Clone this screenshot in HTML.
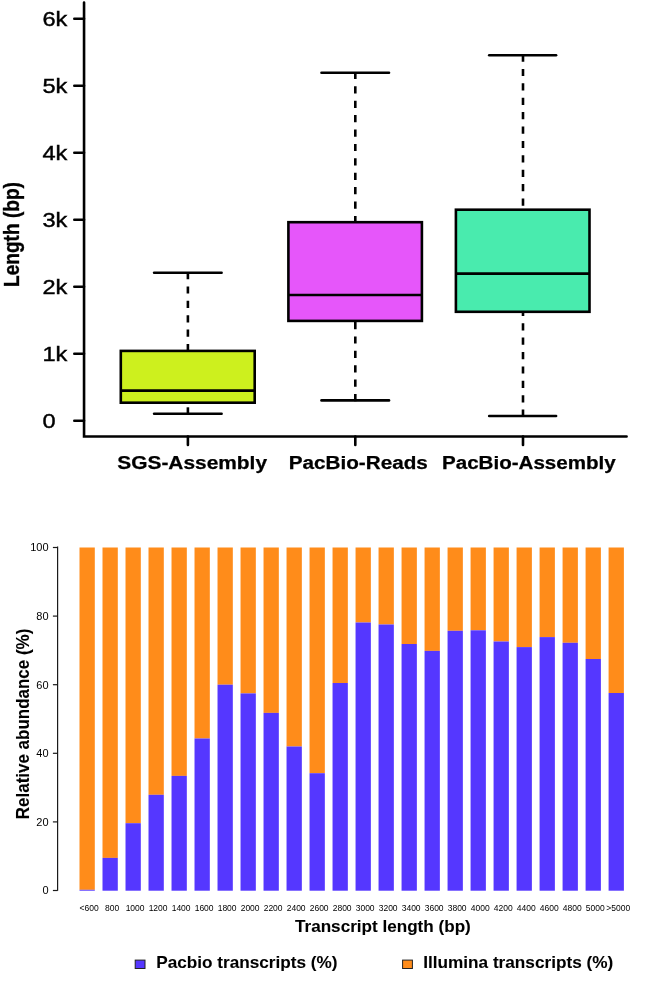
<!DOCTYPE html>
<html><head><meta charset="utf-8"><title>Transcript length figure</title>
<style>html,body{margin:0;padding:0;background:#fff}svg{display:block;will-change:transform}text{font-family:"Liberation Sans",Arial,Helvetica,sans-serif;fill:#000}.b{font-weight:bold}</style></head><body>
<svg width="646" height="1002" viewBox="0 0 646 1002">
<rect width="646" height="1002" fill="#fff"/>
<g stroke="#000" stroke-width="2.6" fill="none" stroke-linecap="butt">
<path d="M84.05 2.6 V436.5 H626.6" stroke-linecap="round" stroke-linejoin="miter"/>
<path d="M74.3 420.70 H84" stroke-linecap="round"/>
<path d="M74.3 353.70 H84" stroke-linecap="round"/>
<path d="M74.3 286.70 H84" stroke-linecap="round"/>
<path d="M74.3 219.70 H84" stroke-linecap="round"/>
<path d="M74.3 152.70 H84" stroke-linecap="round"/>
<path d="M74.3 85.70 H84" stroke-linecap="round"/>
<path d="M74.3 18.70 H84" stroke-linecap="round"/>
<path d="M187.9 436.5 V445.0" stroke-linecap="round"/>
<path d="M355.3 436.5 V445.0" stroke-linecap="round"/>
<path d="M523.0 436.5 V445.0" stroke-linecap="round"/>
</g>
<g stroke="#000" stroke-width="2.6" fill="none">
<path d="M187.9 272.00 V350.9" stroke-dasharray="7.2 7.2"/>
<path d="M187.9 414.50 V402.7" stroke-dasharray="7.2 7.2"/>
<path d="M154.1 272.8 H221.6" stroke-linecap="round"/>
<path d="M154.1 413.7 H221.6" stroke-linecap="round"/>
<rect x="120.8" y="350.9" width="133.90" height="51.80" fill="#cdf01e"/>
<path d="M120.8 390.6 H254.7"/>
</g>
<g stroke="#000" stroke-width="2.6" fill="none">
<path d="M355.3 71.90 V222.2" stroke-dasharray="7.2 7.2"/>
<path d="M355.3 401.20 V320.9" stroke-dasharray="7.2 7.2"/>
<path d="M321.5 72.7 H389.0" stroke-linecap="round"/>
<path d="M321.5 400.4 H389.0" stroke-linecap="round"/>
<rect x="288.4" y="222.2" width="133.50" height="98.70" fill="#e656fa"/>
<path d="M288.4 295.0 H421.9"/>
</g>
<g stroke="#000" stroke-width="2.6" fill="none">
<path d="M523.0 54.50 V209.7" stroke-dasharray="7.2 7.2"/>
<path d="M523.0 416.80 V311.8" stroke-dasharray="7.2 7.2"/>
<path d="M489.2 55.3 H556.1" stroke-linecap="round"/>
<path d="M489.2 416.0 H556.1" stroke-linecap="round"/>
<rect x="455.9" y="209.7" width="133.60" height="102.10" fill="#49ebae"/>
<path d="M455.9 273.6 H589.5"/>
</g>
<text transform="translate(42.4 428.30) scale(1.18 1)" font-size="20" stroke="#000" stroke-width="0.4">0</text>
<text transform="translate(42.4 361.30) scale(1.18 1)" font-size="20" stroke="#000" stroke-width="0.4">1k</text>
<text transform="translate(42.4 294.30) scale(1.18 1)" font-size="20" stroke="#000" stroke-width="0.4">2k</text>
<text transform="translate(42.4 227.30) scale(1.18 1)" font-size="20" stroke="#000" stroke-width="0.4">3k</text>
<text transform="translate(42.4 160.30) scale(1.18 1)" font-size="20" stroke="#000" stroke-width="0.4">4k</text>
<text transform="translate(42.4 93.30) scale(1.18 1)" font-size="20" stroke="#000" stroke-width="0.4">5k</text>
<text transform="translate(42.4 26.30) scale(1.18 1)" font-size="20" stroke="#000" stroke-width="0.4">6k</text>
<text class="b" x="117.3" y="469.0" font-size="17.6" stroke="#000" stroke-width="0.25" textLength="149.7" lengthAdjust="spacingAndGlyphs">SGS-Assembly</text>
<text class="b" x="288.7" y="469.0" font-size="17.6" stroke="#000" stroke-width="0.25" textLength="139.1" lengthAdjust="spacingAndGlyphs">PacBio-Reads</text>
<text class="b" x="442.0" y="469.0" font-size="17.6" stroke="#000" stroke-width="0.25" textLength="173.7" lengthAdjust="spacingAndGlyphs">PacBio-Assembly</text>
<text class="b" transform="translate(18.7 287) scale(1.19 1) rotate(-90)" font-size="19.1" stroke="#000" stroke-width="0.3">Length (bp)</text>
<g shape-rendering="auto">
<rect x="79.50" y="547.5" width="15.3" height="342.30" fill="#ff8c1a"/>
<rect x="79.50" y="889.80" width="15.3" height="0.90" fill="#5537ff"/>
<rect x="102.50" y="547.5" width="15.3" height="310.40" fill="#ff8c1a"/>
<rect x="102.50" y="857.90" width="15.3" height="32.80" fill="#5537ff"/>
<rect x="125.51" y="547.5" width="15.3" height="275.70" fill="#ff8c1a"/>
<rect x="125.51" y="823.20" width="15.3" height="67.50" fill="#5537ff"/>
<rect x="148.51" y="547.5" width="15.3" height="247.30" fill="#ff8c1a"/>
<rect x="148.51" y="794.80" width="15.3" height="95.90" fill="#5537ff"/>
<rect x="171.52" y="547.5" width="15.3" height="228.40" fill="#ff8c1a"/>
<rect x="171.52" y="775.90" width="15.3" height="114.80" fill="#5537ff"/>
<rect x="194.52" y="547.5" width="15.3" height="191.00" fill="#ff8c1a"/>
<rect x="194.52" y="738.50" width="15.3" height="152.20" fill="#5537ff"/>
<rect x="217.52" y="547.5" width="15.3" height="137.20" fill="#ff8c1a"/>
<rect x="217.52" y="684.70" width="15.3" height="206.00" fill="#5537ff"/>
<rect x="240.53" y="547.5" width="15.3" height="145.90" fill="#ff8c1a"/>
<rect x="240.53" y="693.40" width="15.3" height="197.30" fill="#5537ff"/>
<rect x="263.53" y="547.5" width="15.3" height="165.40" fill="#ff8c1a"/>
<rect x="263.53" y="712.90" width="15.3" height="177.80" fill="#5537ff"/>
<rect x="286.54" y="547.5" width="15.3" height="199.00" fill="#ff8c1a"/>
<rect x="286.54" y="746.50" width="15.3" height="144.20" fill="#5537ff"/>
<rect x="309.54" y="547.5" width="15.3" height="225.70" fill="#ff8c1a"/>
<rect x="309.54" y="773.20" width="15.3" height="117.50" fill="#5537ff"/>
<rect x="332.54" y="547.5" width="15.3" height="135.50" fill="#ff8c1a"/>
<rect x="332.54" y="683.00" width="15.3" height="207.70" fill="#5537ff"/>
<rect x="355.55" y="547.5" width="15.3" height="75.00" fill="#ff8c1a"/>
<rect x="355.55" y="622.50" width="15.3" height="268.20" fill="#5537ff"/>
<rect x="378.55" y="547.5" width="15.3" height="77.00" fill="#ff8c1a"/>
<rect x="378.55" y="624.50" width="15.3" height="266.20" fill="#5537ff"/>
<rect x="401.56" y="547.5" width="15.3" height="96.50" fill="#ff8c1a"/>
<rect x="401.56" y="644.00" width="15.3" height="246.70" fill="#5537ff"/>
<rect x="424.56" y="547.5" width="15.3" height="103.40" fill="#ff8c1a"/>
<rect x="424.56" y="650.90" width="15.3" height="239.80" fill="#5537ff"/>
<rect x="447.56" y="547.5" width="15.3" height="83.30" fill="#ff8c1a"/>
<rect x="447.56" y="630.80" width="15.3" height="259.90" fill="#5537ff"/>
<rect x="470.57" y="547.5" width="15.3" height="82.80" fill="#ff8c1a"/>
<rect x="470.57" y="630.30" width="15.3" height="260.40" fill="#5537ff"/>
<rect x="493.57" y="547.5" width="15.3" height="94.00" fill="#ff8c1a"/>
<rect x="493.57" y="641.50" width="15.3" height="249.20" fill="#5537ff"/>
<rect x="516.58" y="547.5" width="15.3" height="99.60" fill="#ff8c1a"/>
<rect x="516.58" y="647.10" width="15.3" height="243.60" fill="#5537ff"/>
<rect x="539.58" y="547.5" width="15.3" height="89.60" fill="#ff8c1a"/>
<rect x="539.58" y="637.10" width="15.3" height="253.60" fill="#5537ff"/>
<rect x="562.58" y="547.5" width="15.3" height="95.30" fill="#ff8c1a"/>
<rect x="562.58" y="642.80" width="15.3" height="247.90" fill="#5537ff"/>
<rect x="585.59" y="547.5" width="15.3" height="111.50" fill="#ff8c1a"/>
<rect x="585.59" y="659.00" width="15.3" height="231.70" fill="#5537ff"/>
<rect x="608.59" y="547.5" width="15.3" height="145.50" fill="#ff8c1a"/>
<rect x="608.59" y="693.00" width="15.3" height="197.70" fill="#5537ff"/>
</g>
<text x="89.10" y="911.2" font-size="8.5" text-anchor="middle" fill="#222">&lt;600</text>
<text x="112.10" y="911.2" font-size="8.5" text-anchor="middle" fill="#222">800</text>
<text x="135.11" y="911.2" font-size="8.5" text-anchor="middle" fill="#222">1000</text>
<text x="158.11" y="911.2" font-size="8.5" text-anchor="middle" fill="#222">1200</text>
<text x="181.12" y="911.2" font-size="8.5" text-anchor="middle" fill="#222">1400</text>
<text x="204.12" y="911.2" font-size="8.5" text-anchor="middle" fill="#222">1600</text>
<text x="227.12" y="911.2" font-size="8.5" text-anchor="middle" fill="#222">1800</text>
<text x="250.13" y="911.2" font-size="8.5" text-anchor="middle" fill="#222">2000</text>
<text x="273.13" y="911.2" font-size="8.5" text-anchor="middle" fill="#222">2200</text>
<text x="296.14" y="911.2" font-size="8.5" text-anchor="middle" fill="#222">2400</text>
<text x="319.14" y="911.2" font-size="8.5" text-anchor="middle" fill="#222">2600</text>
<text x="342.14" y="911.2" font-size="8.5" text-anchor="middle" fill="#222">2800</text>
<text x="365.15" y="911.2" font-size="8.5" text-anchor="middle" fill="#222">3000</text>
<text x="388.15" y="911.2" font-size="8.5" text-anchor="middle" fill="#222">3200</text>
<text x="411.16" y="911.2" font-size="8.5" text-anchor="middle" fill="#222">3400</text>
<text x="434.16" y="911.2" font-size="8.5" text-anchor="middle" fill="#222">3600</text>
<text x="457.16" y="911.2" font-size="8.5" text-anchor="middle" fill="#222">3800</text>
<text x="480.17" y="911.2" font-size="8.5" text-anchor="middle" fill="#222">4000</text>
<text x="503.17" y="911.2" font-size="8.5" text-anchor="middle" fill="#222">4200</text>
<text x="526.18" y="911.2" font-size="8.5" text-anchor="middle" fill="#222">4400</text>
<text x="549.18" y="911.2" font-size="8.5" text-anchor="middle" fill="#222">4600</text>
<text x="572.18" y="911.2" font-size="8.5" text-anchor="middle" fill="#222">4800</text>
<text x="595.19" y="911.2" font-size="8.5" text-anchor="middle" fill="#222">5000</text>
<text x="618.19" y="911.2" font-size="8.5" text-anchor="middle" fill="#222">&gt;5000</text>
<g stroke="#1a1a1a" stroke-width="1.2" fill="none">
<path d="M57.6 546.6 V890.8"/>
<path d="M52.9 890.50 H57.6"/>
<path d="M52.9 821.90 H57.6"/>
<path d="M52.9 753.30 H57.6"/>
<path d="M52.9 684.70 H57.6"/>
<path d="M52.9 616.10 H57.6"/>
<path d="M52.9 547.50 H57.6"/>
</g>
<text x="48.6" y="894.40" font-size="11" text-anchor="end" fill="#111">0</text>
<text x="48.6" y="825.80" font-size="11" text-anchor="end" fill="#111">20</text>
<text x="48.6" y="757.20" font-size="11" text-anchor="end" fill="#111">40</text>
<text x="48.6" y="688.60" font-size="11" text-anchor="end" fill="#111">60</text>
<text x="48.6" y="620.00" font-size="11" text-anchor="end" fill="#111">80</text>
<text x="48.6" y="551.40" font-size="11" text-anchor="end" fill="#111">100</text>
<text class="b" transform="translate(29.0 819.2) scale(1.07 1) rotate(-90)" font-size="17" stroke="#000" stroke-width="0.08" textLength="190.5" lengthAdjust="spacingAndGlyphs">Relative abundance (%)</text>
<text class="b" x="295" y="931.9" font-size="17" stroke="#000" stroke-width="0.08" textLength="175.8" lengthAdjust="spacingAndGlyphs">Transcript length (bp)</text>
<rect x="135.2" y="960.1" width="9.8" height="8.4" fill="#5537ff" stroke="#222" stroke-width="1"/>
<text class="b" x="156.2" y="968.3" font-size="17" stroke="#000" stroke-width="0.08" textLength="181.3" lengthAdjust="spacingAndGlyphs">Pacbio transcripts (%)</text>
<rect x="402.6" y="960.1" width="9.8" height="8.4" fill="#ff8c1a" stroke="#222" stroke-width="1"/>
<text class="b" x="423.2" y="968.3" font-size="17" stroke="#000" stroke-width="0.08" textLength="190" lengthAdjust="spacingAndGlyphs">Illumina transcripts (%)</text>
</svg></body></html>
